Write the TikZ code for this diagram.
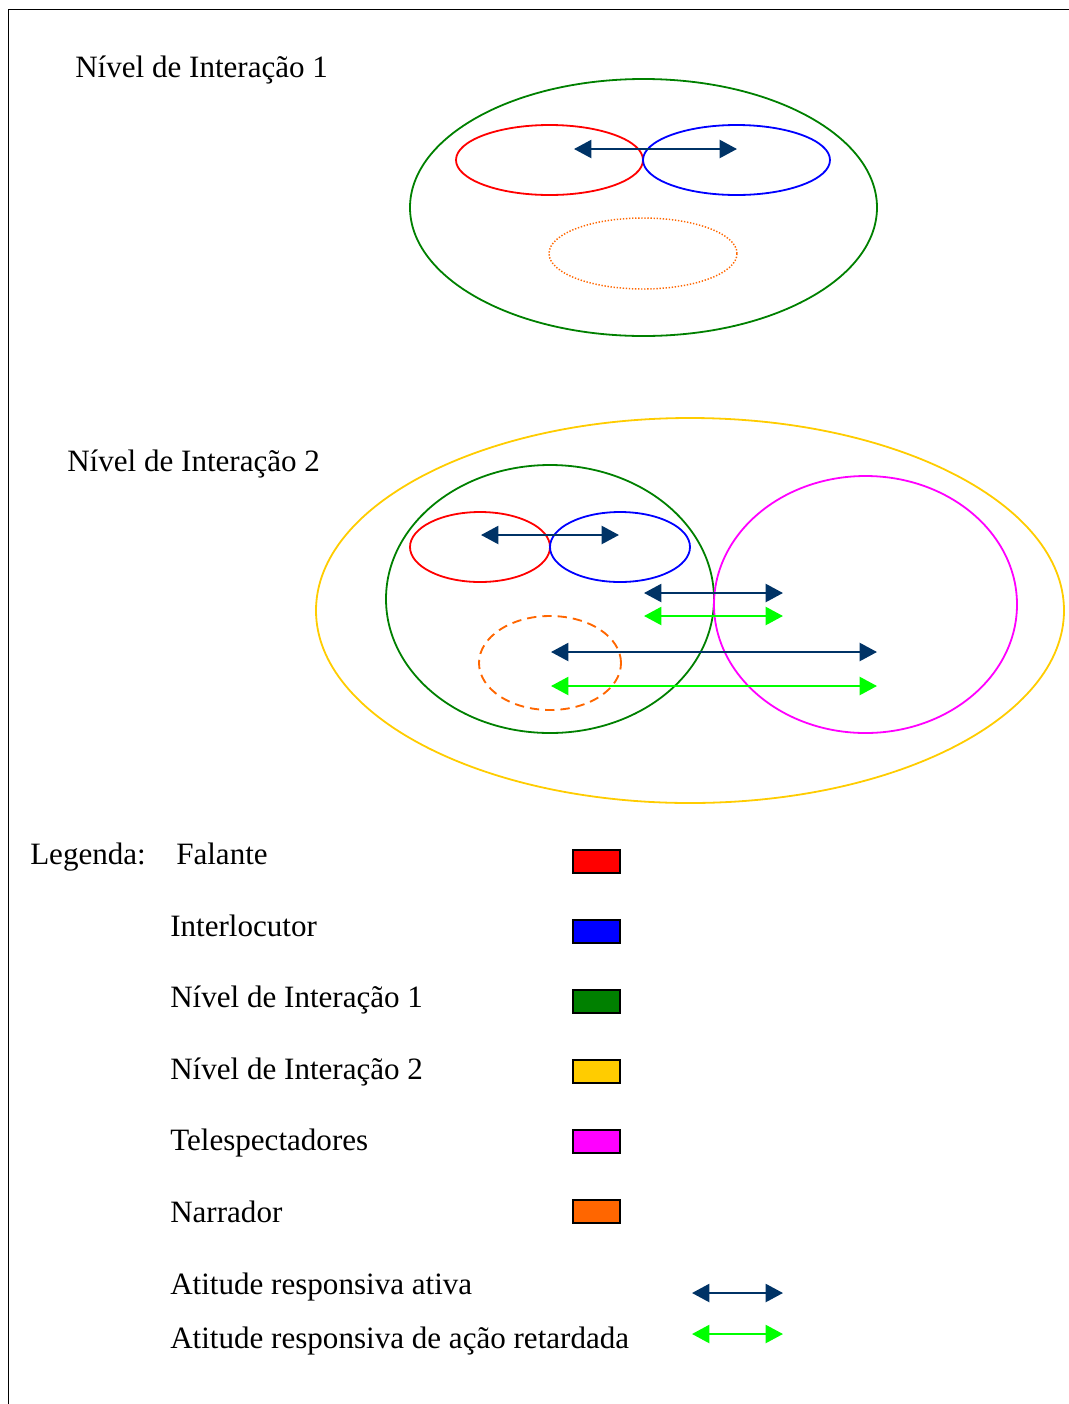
\documentclass[tikz,border=0pt]{standalone}
\usepackage{fontspec}
\setmainfont{Liberation Serif}
\usetikzlibrary{shapes.geometric,arrows.meta}
\definecolor{navy}{HTML}{003366}
\definecolor{lgreen}{HTML}{00FF00}
\definecolor{dgreen}{HTML}{008000}
\definecolor{yel}{HTML}{FFCC00}
\definecolor{mag}{HTML}{FF00FF}
\definecolor{ora}{HTML}{FF6600}
\tikzset{
  ell/.style={ellipse, draw, line width=1.35pt, inner sep=0pt, outer sep=0pt},
  biarrow/.style={{Triangle[length=13pt,width=13.5pt]}-{Triangle[length=13pt,width=13.5pt]}, line width=1.7pt},
  legbox/.style={draw=black, line width=1.5pt, minimum width=35pt, minimum height=17pt, inner sep=0pt},
  lbl/.style={anchor=base west, inner sep=0pt, font=\fontsize{23.3}{28}\selectfont},
}
\begin{document}
\begin{tikzpicture}[x=0.75pt,y=-0.75pt]
\useasboundingbox (0,0) rectangle (1069,1404);
\draw[line width=0.8pt] (8.5,1404) -- (8.5,9.5) -- (1069,9.5);

% Level 1
\node[lbl] (t1) at (75,77) {Nível de Interação 1};
\node[ell, draw=dgreen, minimum width=350.25pt, minimum height=192.75pt] (g1) at (643.5,207.5) {};
\node[ell, draw=red, minimum width=140.25pt, minimum height=52.5pt] (r1) at (549.5,160) {};
\node[ell, draw=blue, minimum width=140.25pt, minimum height=52.5pt] (b1) at (736.5,160) {};
\node[ell, draw=ora, line width=1.1pt, dash pattern=on 1pt off 1.3pt, minimum width=141pt, minimum height=53.25pt] (o1) at (643,253.5) {};
\coordinate (a1l) at (574,149);
\coordinate (a1r) at (737,149);
\draw[biarrow, navy] (a1l) -- (a1r);

% Level 2
\node[lbl] (t2) at (67,471) {Nível de Interação 2};
\node[ell, draw=yel, minimum width=561pt, minimum height=288.75pt] (y2) at (690,610.5) {};
\node[ell, draw=dgreen, minimum width=246pt, minimum height=201pt] (g2) at (550,599) {};
\node[ell, draw=red, minimum width=105pt, minimum height=52.5pt] (r2) at (480,547) {};
\node[ell, draw=blue, minimum width=105pt, minimum height=52.5pt] (b2) at (620,547) {};
\node[ell, draw=mag, minimum width=227.25pt, minimum height=192.75pt] (m2) at (865.5,604.5) {};
\node[ell, draw=ora, line width=1.4pt, dash pattern=on 7pt off 4.5pt, minimum width=106.5pt, minimum height=70.5pt] (o2) at (550,663) {};
\coordinate (p1l) at (481,535);
\coordinate (p1r) at (619,535);
\coordinate (p2l) at (644,593);
\coordinate (p2r) at (783,593);
\coordinate (p3l) at (644,616);
\coordinate (p3r) at (783,616);
\coordinate (p4l) at (551,652);
\coordinate (p4r) at (877,652);
\coordinate (p5l) at (551,686);
\coordinate (p5r) at (877,686);
\draw[biarrow, navy] (p1l) -- (p1r);
\draw[biarrow, navy] (p2l) -- (p2r);
\draw[biarrow, lgreen] (p3l) -- (p3r);
\draw[biarrow, navy] (p4l) -- (p4r);
\draw[biarrow, lgreen] (p5l) -- (p5r);

% Legend
\node[lbl] (leg) at (30,864) {Legenda:};
\node[lbl] (l1) at (176,864) {Falante};
\node[lbl] (l2) at (170,936) {Interlocutor};
\node[lbl] (l3) at (170,1007.5) {Nível de Interação 1};
\node[lbl] (l4) at (170,1079) {Nível de Interação 2};
\node[lbl] (l5) at (170,1150.5) {Telespectadores};
\node[lbl] (l6) at (170,1222) {Narrador};
\node[lbl] (l7) at (170,1294.5) {Atitude responsiva ativa};
\node[lbl] (l8) at (170,1348.5) {Atitude responsiva de ação retardada};
\node[legbox, fill=red] (k1) at (596.5,861.5) {};
\node[legbox, fill=blue] (k2) at (596.5,931.5) {};
\node[legbox, fill=dgreen] (k3) at (596.5,1001.5) {};
\node[legbox, fill=yel] (k4) at (596.5,1071.5) {};
\node[legbox, fill=mag] (k5) at (596.5,1141.5) {};
\node[legbox, fill=ora] (k6) at (596.5,1211.5) {};
\coordinate (q1l) at (692,1293);
\coordinate (q1r) at (783,1293);
\coordinate (q2l) at (692,1334);
\coordinate (q2r) at (783,1334);
\draw[biarrow, navy] (q1l) -- (q1r);
\draw[biarrow, lgreen] (q2l) -- (q2r);
\end{tikzpicture}
\end{document}
